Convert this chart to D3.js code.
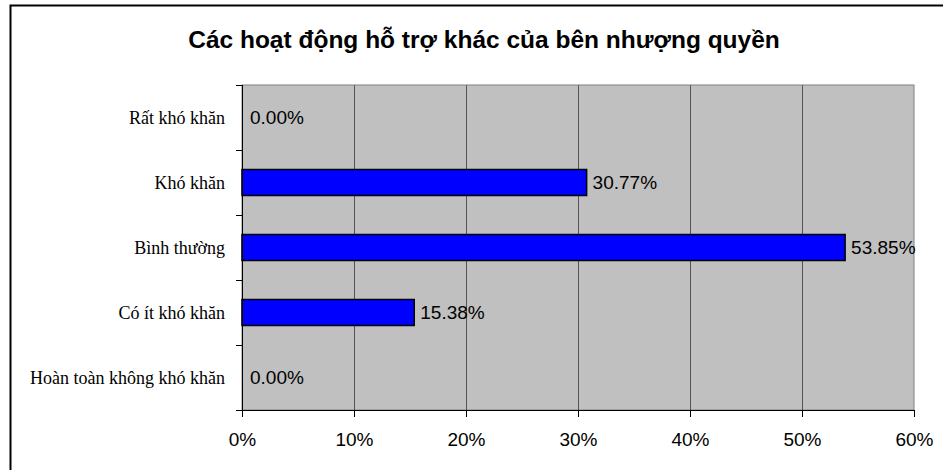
<!DOCTYPE html>
<html>
<head>
<meta charset="utf-8">
<script src="https://cdn.jsdelivr.net/npm/d3@7"></script>
<style>
  html, body { margin: 0; padding: 0; background: #fff; }
  svg { display: block; }
</style>
</head>
<body>
<svg id="chart" width="943" height="470"></svg>
<script>
// Categories from top to bottom, with their shares
const categories = ["Rất khó khăn", "Khó khăn", "Bình thường", "Có ít khó khăn", "Hoàn toàn không khó khăn"];
const values = [0, 30.77, 53.85, 15.38, 0];
const tickValues = [0, 10, 20, 30, 40, 50, 60];
const title = "Các hoạt động hỗ trợ khác của bên nhượng quyền";

const svg = d3.select("#chart");
const W = 943, H = 470;
const plot = { left: 242, top: 85, right: 914, bottom: 410 };
const sans = "Arial, 'Liberation Sans', sans-serif";
const serif = "'Times New Roman', 'Liberation Serif', serif";

// outer chart frame (only top and left edges fall inside the canvas)
svg.append("rect")
  .attr("x", 10.5).attr("y", 5.5)
  .attr("width", W + 20).attr("height", H + 20)
  .attr("fill", "#fff").attr("stroke", "#000").attr("stroke-width", 2);

svg.append("text")
  .attr("x", 484).attr("y", 48)
  .attr("text-anchor", "middle")
  .attr("font-family", sans)
  .attr("font-weight", "bold")
  .attr("font-size", 24.5)
  .attr("fill", "#000")
  .text(title);

const x = d3.scaleLinear().domain([0, 60]).range([plot.left, plot.right]);
const band = d3.scaleBand().domain(categories).range([plot.top, plot.bottom]);

// plot background
svg.append("rect")
  .attr("x", plot.left).attr("y", plot.top)
  .attr("width", plot.right - plot.left).attr("height", plot.bottom - plot.top)
  .attr("fill", "#c0c0c0")
  .attr("stroke", "#808080").attr("stroke-width", 1);

// vertical gridlines
svg.append("g").selectAll("line")
  .data(tickValues.filter(d => d > 0 && d < 60))
  .join("line")
  .attr("x1", d => Math.round(x(d)) + 0.5).attr("x2", d => Math.round(x(d)) + 0.5)
  .attr("y1", plot.top).attr("y2", plot.bottom)
  .attr("stroke", "#555").attr("stroke-width", 1);

// bars
svg.append("g").selectAll("rect")
  .data(values)
  .join("rect")
  .attr("x", x(0))
  .attr("y", (d, i) => band(categories[i]) + band.bandwidth() / 2 - 13)
  .attr("width", d => x(d) - x(0))
  .attr("height", 26)
  .attr("fill", "#0000ff")
  .attr("stroke", "#000").attr("stroke-width", 1.5)
  .attr("display", d => d > 0 ? null : "none");

// value labels
svg.append("g").selectAll("text")
  .data(values)
  .join("text")
  .attr("x", d => x(d) + (d > 0 ? 6 : 8))
  .attr("y", (d, i) => band(categories[i]) + band.bandwidth() / 2)
  .attr("dy", "0.36em")
  .attr("font-family", sans)
  .attr("font-size", 19)
  .attr("fill", "#000")
  .text(d => d.toFixed(2) + "%");

// x axis
const xAxis = d3.axisBottom(x)
  .tickValues(tickValues)
  .tickFormat(d => d + "%")
  .tickSize(7)
  .tickPadding(16);
const gx = svg.append("g").attr("transform", `translate(0,${plot.bottom})`).call(xAxis);
gx.select(".domain").attr("stroke", "#000");
gx.selectAll(".tick line").attr("stroke", "#000");
gx.selectAll("text")
  .attr("font-family", sans)
  .attr("font-size", 19)
  .attr("fill", "#000");

// y axis: ticks on category boundaries, labels centered in bands
const gy = svg.append("g").attr("transform", `translate(${plot.left},0)`);
gy.append("line")
  .attr("x1", 0.5).attr("x2", 0.5)
  .attr("y1", plot.top).attr("y2", plot.bottom)
  .attr("stroke", "#000");
const boundaries = categories.map(c => band(c)).concat([plot.bottom]);
gy.selectAll("line.tick")
  .data(boundaries)
  .join("line")
  .attr("class", "tick")
  .attr("x1", -6).attr("x2", 0)
  .attr("y1", d => Math.round(d) + 0.5).attr("y2", d => Math.round(d) + 0.5)
  .attr("stroke", "#000");
gy.selectAll("text")
  .data(categories)
  .join("text")
  .attr("x", -17)
  .attr("y", d => band(d) + band.bandwidth() / 2)
  .attr("dy", "0.35em")
  .attr("text-anchor", "end")
  .attr("font-family", serif)
  .attr("font-size", 18)
  .attr("fill", "#000")
  .text(d => d);
</script>
</body>
</html>
